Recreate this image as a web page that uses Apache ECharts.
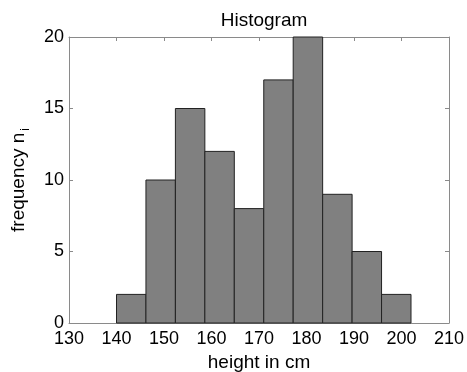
<!DOCTYPE html>
<html>
<head>
<meta charset="utf-8">
<script src="https://cdn.jsdelivr.net/npm/echarts@6/dist/echarts.min.js"></script>
<style>
  html, body { margin: 0; padding: 0; background: #fff; }
  #chart { width: 467px; height: 372px; }
</style>
</head>
<body>
<div id="chart"></div>
<script>
// histogram bins (edges) and counts
const binEdges = [140, 146.2, 152.4, 158.6, 164.8, 171, 177.2, 183.4, 189.6, 195.8, 202];
const counts = [2, 10, 15, 12, 8, 17, 20, 9, 5, 2];
const xTicks = [130, 140, 150, 160, 170, 180, 190, 200, 210];
const yTicks = [0, 5, 10, 15, 20];

const FONT = "Liberation Sans, Arial, sans-serif";
const AXIS_COLOR = "#8a8a8a";

const chart = echarts.init(document.getElementById("chart"));

const bins = counts.map((c, i) => [binEdges[i], binEdges[i + 1], c]);

// shared axis look, MATLAB-ish box with inward ticks
const baseAxis = {
  type: "value",
  axisLine: { show: true, onZero: false, lineStyle: { color: AXIS_COLOR, width: 1 } },
  axisTick: { show: true, inside: true, length: 4, lineStyle: { color: AXIS_COLOR } },
  splitLine: { show: false },
};

chart.setOption({
  animation: false,
  textStyle: { fontFamily: FONT },
  title: {
    text: "Histogram",
    left: 259,
    textAlign: "center",
    top: 6,
    textStyle: { fontFamily: FONT, fontSize: 19, fontWeight: "normal", color: "#000" },
  },
  grid: { left: 69, right: 18, top: 37, bottom: 49, outerBoundsMode: "none" },
  xAxis: [
    {
      ...baseAxis,
      min: xTicks[0],
      max: xTicks[xTicks.length - 1],
      interval: 10,
      position: "bottom",
      axisLabel: { color: "#000", fontSize: 18, margin: 7 },
      name: "height in cm",
      nameLocation: "middle",
      nameGap: 24,
      nameTextStyle: { color: "#000", fontSize: 19 },
    },
    {
      ...baseAxis,
      min: xTicks[0],
      max: xTicks[xTicks.length - 1],
      interval: 10,
      position: "top",
      axisLabel: { show: false },
    },
  ],
  yAxis: [
    {
      ...baseAxis,
      min: yTicks[0],
      max: yTicks[yTicks.length - 1],
      interval: 5,
      position: "left",
      axisLabel: { color: "#000", fontSize: 18, margin: 5 },
      name: "{a|frequency n}{b|i}",
      nameLocation: "middle",
      nameRotate: 90,
      nameGap: 37,
      nameTextStyle: {
        color: "#000",
        rich: {
          a: { fontSize: 19, fontFamily: FONT, color: "#000" },
          b: { fontSize: 12, fontFamily: FONT, color: "#000", padding: [14, 0, 0, 2] },
        },
      },
    },
    {
      ...baseAxis,
      min: yTicks[0],
      max: yTicks[yTicks.length - 1],
      interval: 5,
      position: "right",
      axisLabel: { show: false },
    },
  ],
  series: [
    {
      type: "custom",
      data: bins,
      encode: { x: [0, 1], y: 2 },
      renderItem: (params, api) => {
        const p0 = api.coord([api.value(0), 0]);
        const p1 = api.coord([api.value(1), api.value(2)]);
        return {
          type: "rect",
          shape: { x: p0[0], y: p1[1], width: p1[0] - p0[0], height: p0[1] - p1[1] },
          style: { fill: "#808080", stroke: "#222", lineWidth: 1 },
        };
      },
    },
  ],
});
</script>
</body>
</html>
